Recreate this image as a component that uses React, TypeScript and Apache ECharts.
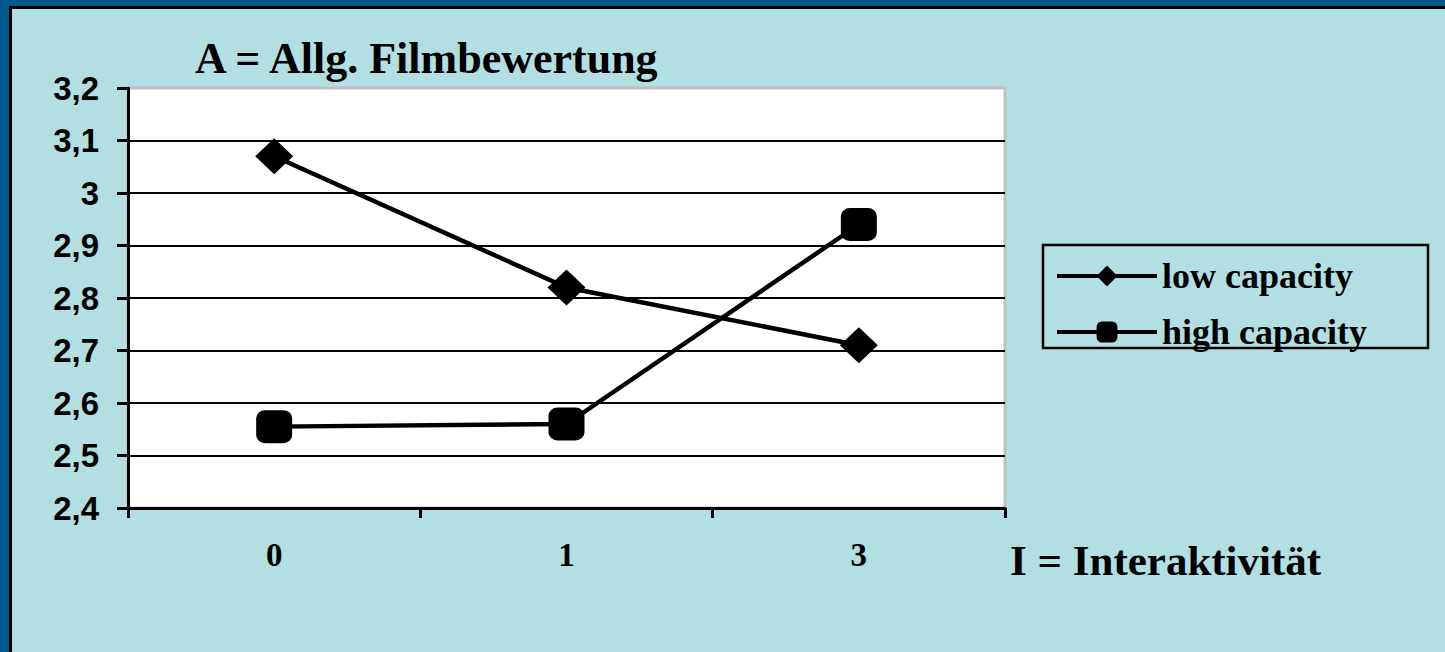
import React, { useEffect, useRef } from "react";
import * as echarts from "echarts";

const categories = ["0", "1", "3"];
const lowCapacity = [3.07, 2.82, 2.71];
const highCapacity = [2.555, 2.56, 2.94];
const seriesNames = ["low capacity", "high capacity"];
const chartTitle = "A = Allg. Filmbewertung";
const xAxisTitle = "I = Interaktivität";

const SERIF = "'Liberation Serif', 'Times New Roman', serif";
const SANS = "'Liberation Sans', Arial, sans-serif";

export default function App() {
  const ref = useRef<HTMLDivElement>(null);

  useEffect(() => {
    document.body.style.margin = "0";
    const chart = echarts.init(ref.current!, undefined, { renderer: "svg" });
    const splitColors = ["#000", "#000", "#000", "#000", "#000", "#000", "#000", "#000", "rgba(0,0,0,0)"];
    chart.setOption({
      animation: false,
      grid: {
        left: 128,
        right: 440,
        top: 88,
        bottom: 144,
        show: true,
        backgroundColor: "#ffffff",
        borderColor: "#c0c0c0",
        borderWidth: 3,
      },
      xAxis: {
        type: "category",
        data: categories,
        boundaryGap: true,
        axisLine: { lineStyle: { color: "#000", width: 3 } },
        axisTick: { show: true, length: 10, inside: false, lineStyle: { color: "#000", width: 3 } },
        axisLabel: {
          margin: 30,
          color: "#000",
          fontFamily: SERIF,
          fontWeight: "bold",
          fontSize: 33,
        },
        splitLine: { show: false },
      },
      yAxis: {
        type: "value",
        min: 2.4,
        max: 3.2,
        interval: 0.1,
        axisLine: { show: true, lineStyle: { color: "#000", width: 3 } },
        axisTick: { show: true, length: 11, lineStyle: { color: "#000", width: 3 } },
        axisLabel: {
          margin: 29,
          color: "#000",
          fontFamily: SANS,
          fontWeight: "bold",
          fontSize: 33,
          formatter: (v: number) => {
            const r = Math.round(v * 10) / 10;
            return String(r).replace(".", ",");
          },
        },
        splitLine: { show: true, lineStyle: { color: splitColors, width: 2 } },
      },
      legend: {
        orient: "vertical",
        left: 1055,
        top: 258,
        padding: 0,
        itemWidth: 100,
        itemHeight: 26,
        itemGap: 20,
        itemStyle: { color: "#000" },
        lineStyle: { color: "#000", width: 4 },
        data: seriesNames,
        textStyle: {
          color: "#000",
          fontFamily: SERIF,
          fontWeight: "bold",
          fontSize: 36,
          lineHeight: 30,
          padding: [0, 0, 5, 0],
        },
        itemTextGap: 8,
      },
      graphic: [
        {
          type: "rect",
          shape: { x: 1043, y: 245, width: 385, height: 103 },
          style: { fill: "none", stroke: "#000", lineWidth: 2.5 },
        },
        {
          type: "text",
          x: 195,
          y: 58,
          style: {
            text: chartTitle,
            fill: "#000",
            font: `bold 44px ${SERIF}`,
            verticalAlign: "middle",
            align: "left",
          },
        },
        {
          type: "text",
          x: 1010,
          y: 560,
          style: {
            text: xAxisTitle,
            fill: "#000",
            font: `bold 43px ${SERIF}`,
            verticalAlign: "middle",
            align: "left",
          },
        },
      ],
      series: [
        {
          name: seriesNames[0],
          type: "line",
          data: lowCapacity,
          symbol: "diamond",
          symbolSize: [38, 36],
          lineStyle: { color: "#000", width: 4.5 },
          itemStyle: { color: "#000" },
        },
        {
          name: seriesNames[1],
          type: "line",
          data: highCapacity,
          symbol: "roundRect",
          symbolSize: [36, 33],
          lineStyle: { color: "#000", width: 4.5 },
          itemStyle: { color: "#000", borderRadius: 3 },
        },
      ],
    });
    return () => chart.dispose();
  }, []);

  return (
    <div style={{ position: "absolute", left: 0, top: 0, width: 1445, height: 652, background: "#00598C", overflow: "hidden" }}>
      <div
        style={{
          position: "absolute",
          left: 9,
          top: 6,
          width: 1445,
          height: 652,
          background: "#B3DFE3",
          borderLeft: "3px solid #000",
          borderTop: "3px solid #000",
        }}
      />
      <div ref={ref} style={{ position: "absolute", left: 0, top: 0, width: 1445, height: 652 }} />
    </div>
  );
}
